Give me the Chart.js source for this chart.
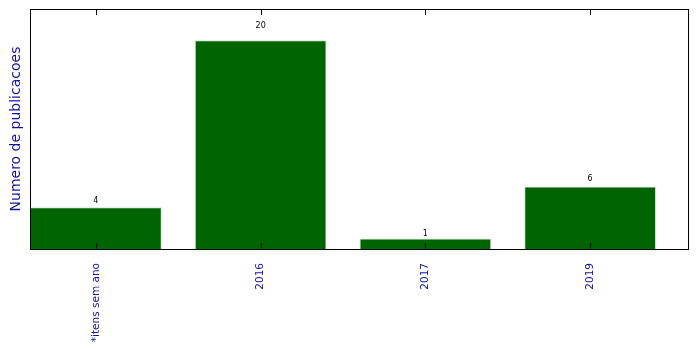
<!DOCTYPE html>
<html>
<head>
<meta charset="utf-8">
<script src="https://cdn.jsdelivr.net/npm/chart.js@4"></script>
<style>
  body { margin: 0; background: #fff; }
</style>
</head>
<body>
<canvas id="myChart" width="699" height="349"></canvas>
<script>
// categorias e valores
const categories = ['*itens sem ano', '2016', '2017', '2019'];
const counts = [4, 20, 1, 6];
const yMax = 23;

const labelBlue = '#14149a';

// moldura + ticks para dentro + rotulos de valor (estilo matplotlib)
const framePlugin = {
  id: 'frame',
  afterDraw(chart) {
    const ctx = chart.ctx;
    const a = chart.chartArea;
    const xs = chart.scales.x;
    const ys = chart.scales.y;
    ctx.save();
    ctx.strokeStyle = '#000';
    ctx.lineWidth = 1;
    ctx.strokeRect(Math.round(a.left) + 0.5, Math.round(a.top) + 0.5,
      Math.round(a.right - a.left) - 1, Math.round(a.bottom - a.top));
    for (let i = 0; i < categories.length; i++) {
      const px = Math.round(xs.getPixelForValue(i)) + 0.5;
      ctx.beginPath();
      ctx.moveTo(px, a.bottom);
      ctx.lineTo(px, a.bottom - 6);
      ctx.moveTo(px, a.top);
      ctx.lineTo(px, a.top + 6);
      ctx.stroke();
    }
    ctx.fillStyle = '#000';
    ctx.font = '8px "DejaVu Sans"';
    ctx.textAlign = 'center';
    ctx.textBaseline = 'bottom';
    for (let i = 0; i < counts.length; i++) {
      ctx.fillText(String(counts[i]), xs.getPixelForValue(i), ys.getPixelForValue(counts[i] * 1.05));
    }
    ctx.restore();
  }
};

let myChart = new Chart(document.getElementById('myChart').getContext('2d'), {
  type: 'bar',
  data: {
    datasets: [{
      data: counts.map((v, i) => ({ x: i, y: v })),
      backgroundColor: '#006400',
      borderColor: '#d0e4d0',
      borderWidth: 1,
      barPercentage: 0.8,
      categoryPercentage: 1.0
    }]
  },
  options: {
    responsive: false,
    animation: false,
    layout: { padding: { top: 9, right: 10, left: 0, bottom: 0 } },
    plugins: { legend: { display: false }, tooltip: { enabled: false } },
    scales: {
      x: {
        type: 'linear',
        offset: false,
        min: -0.4,
        max: 3.6,
        afterBuildTicks: s => { s.ticks = categories.map((c, i) => ({ value: i })); },
        afterFit: s => { s.height = 100; },
        grid: { display: false },
        border: { display: false },
        ticks: {
          autoSkip: false,
          minRotation: 90,
          maxRotation: 90,
          padding: 6,
          color: labelBlue,
          font: { family: 'DejaVu Sans', size: 10.5 },
          callback: v => categories[v]
        }
      },
      y: {
        min: 0,
        max: yMax,
        afterFit: s => { s.width = 30; },
        grid: { display: false },
        border: { display: false },
        ticks: { display: false },
        title: {
          display: true,
          text: 'Numero de publicacoes',
          color: labelBlue,
          font: { family: 'DejaVu Sans', size: 14 },
          padding: { top: 8, bottom: 0 }
        }
      }
    }
  },
  plugins: [framePlugin]
});
</script>
</body>
</html>
